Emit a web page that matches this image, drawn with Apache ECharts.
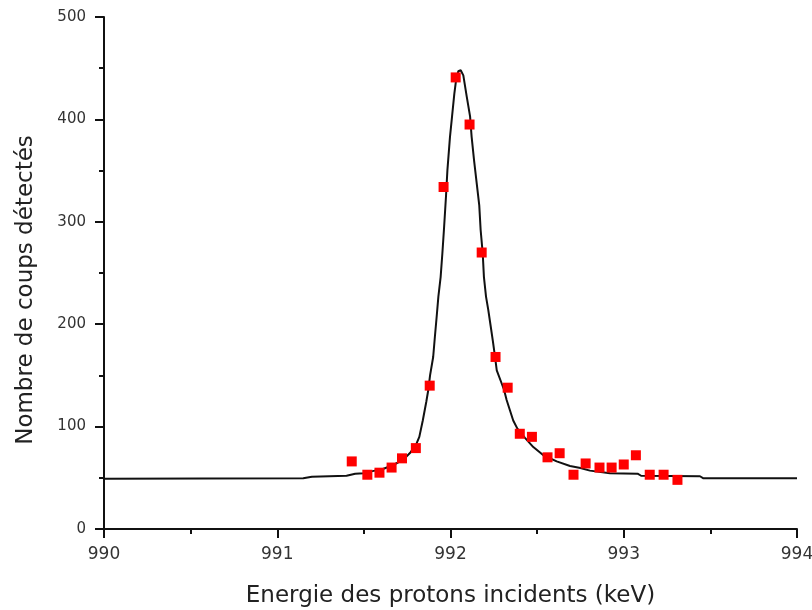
<!DOCTYPE html>
<html>
<head>
<meta charset="utf-8">
<script src="https://cdn.jsdelivr.net/npm/echarts@6/dist/echarts.min.js"></script>
<style>html,body{margin:0;padding:0;background:#fff;}#chart{width:812px;height:610px;}</style>
</head>
<body>
<div id="chart"></div>
<script>
// Measured data points (energy keV, counts)
var pointEnergy = [991.43, 991.52, 991.59, 991.66, 991.72, 991.80, 991.88, 991.96, 992.03, 992.11, 992.18, 992.26, 992.33, 992.40, 992.47, 992.56, 992.63, 992.71, 992.78, 992.86, 992.93, 993.00, 993.07, 993.15, 993.23, 993.31];
var pointCounts = [66, 53, 55, 60, 69, 79, 140, 334, 441, 395, 270, 168, 138, 93, 90, 70, 74, 53, 64, 60, 60, 63, 72, 53, 53, 48];

// Fitted curve
var fitEnergy = [990.0, 991.15, 991.2, 991.40, 991.45, 991.50, 991.55, 991.61, 991.67, 991.73, 991.77, 991.80, 991.82, 991.84, 991.86, 991.872, 991.882, 991.90, 991.91, 991.92, 991.93, 991.943, 991.953, 991.962, 991.974, 991.982, 991.997, 992.009, 992.022, 992.032, 992.045, 992.059, 992.074, 992.094, 992.113, 992.122, 992.136, 992.151, 992.166, 992.174, 992.186, 992.193, 992.205, 992.218, 992.232, 992.245, 992.257, 992.267, 992.289, 992.309, 992.324, 992.343, 992.362, 992.386, 992.43, 992.478, 992.536, 992.613, 992.69, 992.75, 992.805, 992.92, 993.08, 993.10, 993.44, 993.46, 994.0];
var fitCounts = [49, 49.5, 51, 52, 54, 54.5, 56.5, 58.6, 62.5, 68, 75, 82, 90, 106, 124, 136, 150, 168, 188, 207, 227, 246, 269, 292, 325, 350, 383, 403, 425, 438, 447, 448, 443, 422, 403, 383, 360, 338, 316, 292, 269, 246, 227, 214, 198, 183, 168, 155, 145, 136, 126, 116, 106, 98, 89, 80, 72, 66, 61.5, 59.5, 57, 54.5, 54, 52, 51.5, 49.5, 49.5];

var xTicks = [990, 991, 992, 993, 994];
var yTicks = [0, 100, 200, 300, 400, 500];

var xName = 'Energie des protons incidents (keV)';
var yName = 'Nombre de coups détectés';

var fitData = fitEnergy.map(function (x, i) { return [x, fitCounts[i]]; });
var ptData = pointEnergy.map(function (x, i) { return [x, pointCounts[i]]; });

var font = 'DejaVu Sans';
var chart = echarts.init(document.getElementById('chart'));
chart.setOption({
  animation: false,
  backgroundColor: '#ffffff',
  grid: { left: 104, right: 15, top: 17, bottom: 81, containLabel: false, outerBoundsMode: 'none' },
  xAxis: {
    type: 'value',
    min: xTicks[0], max: xTicks[xTicks.length - 1], interval: 1,
    name: xName, nameLocation: 'middle', nameGap: 56,
    nameTextStyle: { fontFamily: font, fontSize: 23, color: '#222' },
    axisLine: { lineStyle: { color: '#111', width: 2 } },
    axisTick: { show: true, inside: false, length: 9, lineStyle: { color: '#111', width: 2 } },
    minorTick: { show: true, splitNumber: 2, length: 5, lineStyle: { color: '#111', width: 2 } },
    splitLine: { show: false },
    axisLabel: { fontFamily: font, fontSize: 17, color: '#333', margin: 17 }
  },
  yAxis: {
    type: 'value',
    min: yTicks[0], max: yTicks[yTicks.length - 1], interval: 100,
    name: yName, nameLocation: 'middle', nameGap: 66, nameRotate: 90,
    nameTextStyle: { fontFamily: font, fontSize: 23, color: '#222', padding: [0, 34, 0, 0] },
    axisLine: { show: true, lineStyle: { color: '#111', width: 2 } },
    axisTick: { show: true, inside: false, length: 9, lineStyle: { color: '#111', width: 2 } },
    minorTick: { show: true, splitNumber: 2, length: 5, lineStyle: { color: '#111', width: 2 } },
    splitLine: { show: false },
    axisLabel: { fontFamily: font, fontSize: 15, color: '#333', margin: 18 }
  },
  series: [
    {
      type: 'line', data: fitData, showSymbol: false, smooth: false,
      lineStyle: { color: '#111', width: 2 }, z: 2
    },
    {
      type: 'scatter', data: ptData, symbol: 'rect', symbolSize: 10,
      itemStyle: { color: '#ff0000', opacity: 1 }, z: 3
    }
  ]
});
</script>
</body>
</html>
